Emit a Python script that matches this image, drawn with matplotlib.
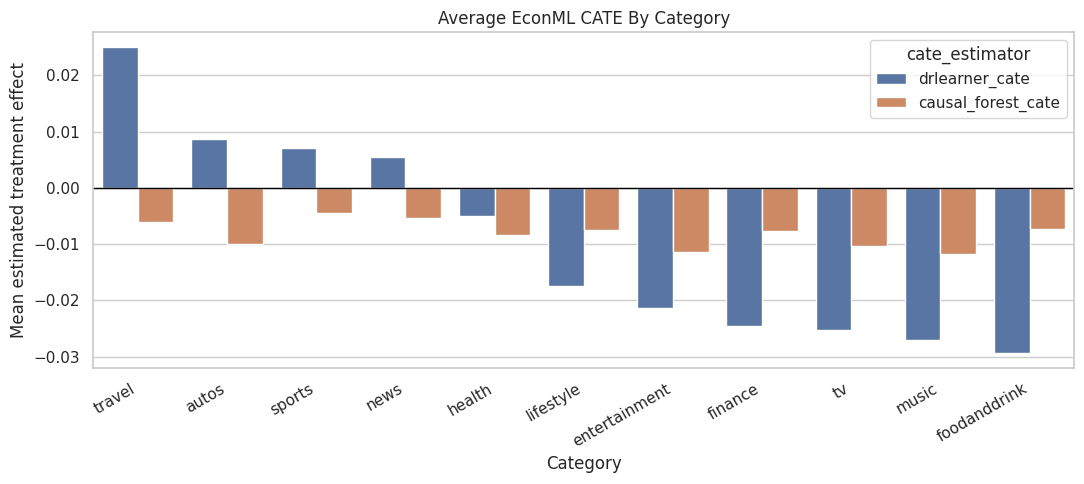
import matplotlib
matplotlib.use("Agg")
import matplotlib.pyplot as plt
import pandas as pd
import seaborn as sns

CATEGORIES = ["travel", "autos", "sports", "news", "health", "lifestyle",
              "entertainment", "finance", "tv", "music", "foodanddrink"]
DRLEARNER_CATE = [0.0250, 0.0086, 0.0070, 0.0054, -0.0050, -0.0175,
                  -0.0213, -0.0246, -0.0252, -0.0271, -0.0293]
CAUSAL_FOREST_CATE = [-0.0060, -0.0100, -0.0045, -0.0054, -0.0084, -0.0075,
                      -0.0114, -0.0077, -0.0104, -0.0117, -0.0073]


def main():
    df = pd.DataFrame({
        "category": CATEGORIES * 2,
        "cate_estimator": ["drlearner_cate"] * len(CATEGORIES)
                          + ["causal_forest_cate"] * len(CATEGORIES),
        "value": DRLEARNER_CATE + CAUSAL_FOREST_CATE,
    })

    sns.set_theme(style="whitegrid")
    fig, ax = plt.subplots(figsize=(10.84, 4.84), dpi=100)
    sns.barplot(data=df, x="category", y="value", hue="cate_estimator",
                order=CATEGORIES, ax=ax)
    ax.axhline(0, color="black", linewidth=1)
    ax.set_title("Average EconML CATE By Category")
    ax.set_xlabel("Category")
    ax.set_ylabel("Mean estimated treatment effect")
    plt.setp(ax.get_xticklabels(), rotation=30, ha="right")
    fig.subplots_adjust(left=0.086, right=0.991, top=0.934, bottom=0.240)
    fig.savefig("out.png", dpi=100)
    plt.close()


if __name__ == "__main__":
    main()
